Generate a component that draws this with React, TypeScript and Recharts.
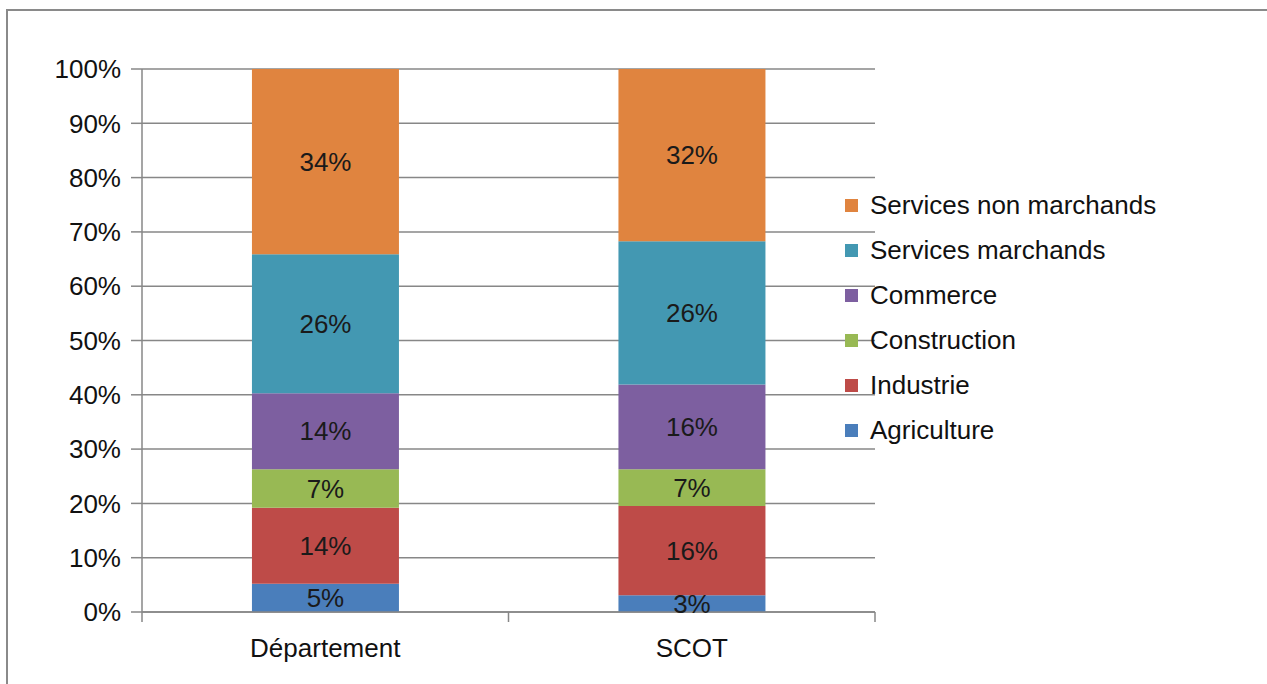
import React from "react";
import {
  BarChart,
  Bar,
  XAxis,
  YAxis,
  CartesianGrid,
  Legend,
  LabelList
} from "recharts";

const categories = ["Département", "SCOT"];

const agriculture = [5.2, 3.1];
const industrie = [14.0, 16.4];
const construction = [7.1, 6.8];
const commerce = [14.0, 15.6];
const servicesMarchands = [25.6, 26.4];
const servicesNonMarchands = [34.1, 31.7];

const yTicks = [0, 10, 20, 30, 40, 50, 60, 70, 80, 90, 100];

const series = [
  { key: "agriculture", name: "Agriculture", color: "#4A7EBB", values: agriculture },
  { key: "industrie", name: "Industrie", color: "#BE4B48", values: industrie },
  { key: "construction", name: "Construction", color: "#98B954", values: construction },
  { key: "commerce", name: "Commerce", color: "#7D5FA0", values: commerce },
  { key: "servicesMarchands", name: "Services marchands", color: "#4398B2", values: servicesMarchands },
  { key: "servicesNonMarchands", name: "Services non marchands", color: "#E0843F", values: servicesNonMarchands }
];

const data = categories.map((name, i) => {
  const row: any = { name };
  series.forEach((s) => {
    row[s.key] = s.values[i];
  });
  return row;
});

const FONT = "'Liberation Sans', Arial, sans-serif";
const GRID = "#878787";

function LegendBox() {
  const items = [...series].reverse();
  return (
    <div style={{ fontFamily: FONT, fontSize: 26, color: "#111" }}>
      {items.map((it) => (
        <div
          key={it.key}
          style={{ height: 45, display: "flex", alignItems: "center", whiteSpace: "nowrap" }}
        >
          <span
            style={{
              display: "inline-block",
              width: 13,
              height: 13,
              background: it.color,
              marginRight: 12
            }}
          />
          <span>{it.name}</span>
        </div>
      ))}
    </div>
  );
}

// category label plus the tick marks between categories (Excel style)
function CategoryTick(props: any) {
  const { x, y, payload, index, visibleTicksCount } = props;
  const half = payload && payload.offset ? payload.offset : 0;
  const last = index === (visibleTicksCount || 2) - 1;
  return (
    <g>
      <line x1={x - half} x2={x - half} y1={y} y2={y + 10} stroke={GRID} strokeWidth={1.5} />
      {last && (
        <line x1={x + half} x2={x + half} y1={y} y2={y + 10} stroke={GRID} strokeWidth={1.5} />
      )}
      <text
        x={x}
        y={y + 45}
        textAnchor="middle"
        fontSize={26}
        fill="#111"
        fontFamily={FONT}
      >
        {payload.value}
      </text>
    </g>
  );
}

export default function App() {
  return (
    <div
      style={{
        position: "absolute",
        left: 0,
        top: 0,
        width: 1267,
        height: 684,
        background: "#fff",
        fontFamily: FONT
      }}
    >
      <div
        style={{
          position: "absolute",
          left: 6,
          top: 9,
          right: 0,
          bottom: 0,
          borderTop: "2px solid #8a8a8a",
          borderLeft: "2px solid #8a8a8a"
        }}
      />
      <div style={{ position: "absolute", left: 0, top: 0 }}>
        <BarChart
          width={1267}
          height={684}
          data={data}
          margin={{ top: 69, right: 392, left: 42, bottom: 22 }}
          barCategoryGap="30%"
        >
          <CartesianGrid vertical={false} stroke={GRID} strokeWidth={1.5} />
          <XAxis
            dataKey="name"
            tickLine={false}
            tickSize={0}
            tickMargin={0}
            axisLine={{ stroke: GRID, strokeWidth: 1.5 }}
            height={50}
            interval={0}
            tick={<CategoryTick />}
          />
          <YAxis
            width={100}
            domain={[0, 100]}
            ticks={yTicks}
            interval={0}
            tickFormatter={(v: number) => `${v}%`}
            tickSize={11}
            tickMargin={10}
            axisLine={{ stroke: GRID, strokeWidth: 1.5 }}
            tickLine={{ stroke: GRID, strokeWidth: 1.5 }}
            tick={{ fontSize: 26, fill: "#111", fontFamily: FONT }}
          />
          <Legend
            layout="vertical"
            verticalAlign="middle"
            align="center"
            wrapperStyle={{ left: 845, top: 183, width: 420 }}
            content={<LegendBox />}
          />
          {series.map((s) => (
            <Bar
              key={s.key}
              dataKey={s.key}
              name={s.name}
              stackId="a"
              fill={s.color}
              isAnimationActive={false}
            >
              <LabelList
                dataKey={s.key}
                position="center"
                formatter={(v: any) => `${Math.round(Number(v))}%`}
                style={{ fontSize: 26, fill: "#1a1a1a", fontFamily: FONT }}
              />
            </Bar>
          ))}
        </BarChart>
      </div>
    </div>
  );
}
